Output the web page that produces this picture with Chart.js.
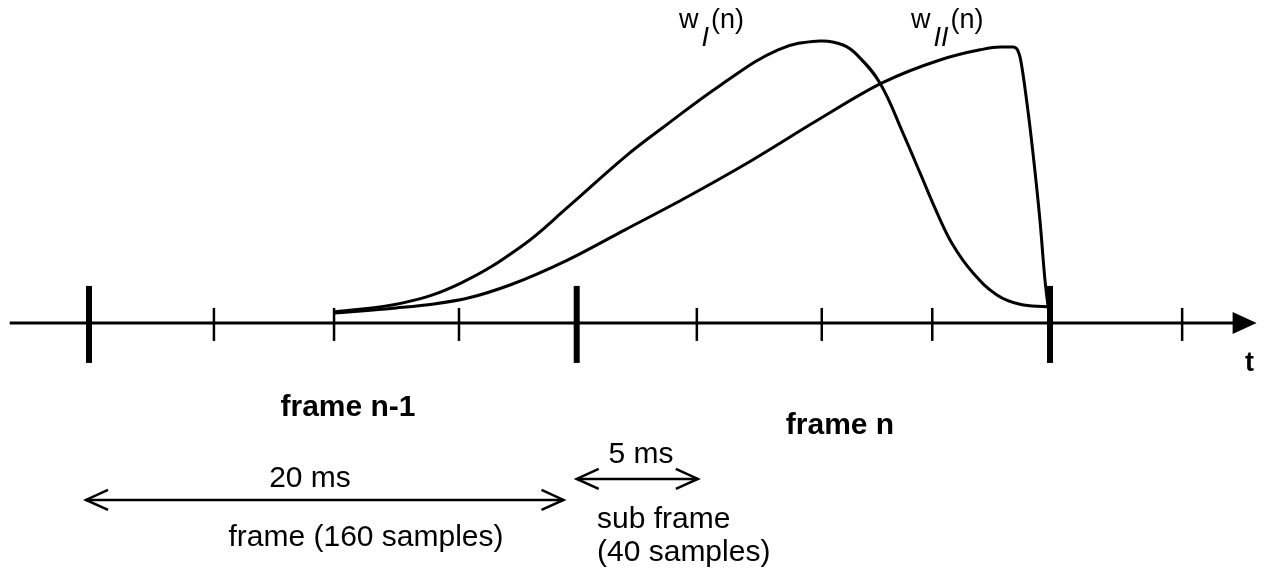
<!DOCTYPE html>
<html>
<head>
<meta charset="utf-8">
<title>Frame and sub frame windows</title>
<script src="https://cdn.jsdelivr.net/npm/chart.js"></script>
<style>
  html, body { margin: 0; padding: 0; background: #fff; }
  #wrap { width: 1264px; height: 572px; }
</style>
</head>
<body>
<div id="wrap"><canvas id="chart" width="1264" height="572"></canvas></div>
<script>
// time axis in ms, window amplitude 0..1
const majorTicks = [0, 20.3, 40];
const minorTicks = [5.2, 10.2, 15.4, 25.3, 30.5, 35.1, 45.5];

const wI_t = [10.2, 13.07, 15.48, 18.02, 19.94, 22.31, 23.93, 26.3, 28.68, 30.43, 31.39, 31.97, 32.92, 33.88, 34.59, 35.3, 35.96, 36.79, 37.79, 38.75, 39.88];
const wI_v = [0.039, 0.071, 0.141, 0.272, 0.41, 0.587, 0.693, 0.841, 0.965, 0.996, 0.982, 0.947, 0.848, 0.671, 0.53, 0.389, 0.275, 0.177, 0.099, 0.066, 0.057];

const wII_t = [10.2, 12.78, 14.36, 15.78, 17.52, 19.94, 22.31, 24.72, 27.6, 30.3, 33.01, 35.42, 37.09, 37.92, 38.46, 38.75, 39.04, 39.29, 39.58, 39.79, 39.92];
const wII_v = [0.035, 0.053, 0.067, 0.088, 0.134, 0.223, 0.329, 0.437, 0.575, 0.715, 0.848, 0.929, 0.965, 0.975, 0.975, 0.94, 0.777, 0.601, 0.364, 0.152, 0.057];

const frameSpan = [0, 20];      // 20 ms frame
const subSpan = [20.3, 25.3];   // 5 ms sub frame
const axisSpan = [-3.3, 48.6];

const FONT = '"Liberation Sans", Arial, Helvetica, sans-serif';

function pts(ts, vs) {
  return ts.map((t, i) => ({ x: t, y: vs[i] }));
}

function chevron(ctx, x, y, dir) {
  ctx.beginPath();
  ctx.moveTo(x - dir * 22, y - 10);
  ctx.lineTo(x, y);
  ctx.lineTo(x - dir * 22, y + 10);
  ctx.stroke();
}

function dimArrow(ctx, x1, x2, y) {
  ctx.beginPath();
  ctx.moveTo(x1, y);
  ctx.lineTo(x2, y);
  ctx.stroke();
  chevron(ctx, x1, y, -1);
  chevron(ctx, x2, y, 1);
}

function label(ctx, x, y, sub) {
  ctx.font = '27px ' + FONT;
  ctx.fillText('w', x, y);
  x += ctx.measureText('w').width + 3;
  ctx.font = 'italic 27px ' + FONT;
  ctx.fillText(sub, x, y + 18);
  x += ctx.measureText(sub).width + 2;
  ctx.font = '27px ' + FONT;
  ctx.fillText('(n)', x, y);
}

const diagram = {
  id: 'diagram',
  afterDatasetsDraw(chart) {
    const ctx = chart.ctx;
    const xs = chart.scales.x;
    const ys = chart.scales.y;
    const y0 = ys.getPixelForValue(0);
    ctx.save();
    ctx.strokeStyle = '#000';
    ctx.fillStyle = '#000';
    ctx.lineCap = 'butt';

    // time axis with arrow head
    const xa = xs.getPixelForValue(axisSpan[0]);
    const xb = xs.getPixelForValue(axisSpan[1]);
    ctx.lineWidth = 3;
    ctx.beginPath();
    ctx.moveTo(xa, y0);
    ctx.lineTo(xb - 20, y0);
    ctx.stroke();
    ctx.beginPath();
    ctx.moveTo(xb, y0);
    ctx.lineTo(xb - 24, y0 - 11);
    ctx.lineTo(xb - 24, y0 + 11);
    ctx.closePath();
    ctx.fill();

    // frame boundaries
    ctx.lineWidth = 6;
    majorTicks.forEach(t => {
      const x = xs.getPixelForValue(t);
      ctx.beginPath();
      ctx.moveTo(x, y0 - 37);
      ctx.lineTo(x, y0 + 40);
      ctx.stroke();
    });
    // sub frame boundaries
    ctx.lineWidth = 2.5;
    minorTicks.forEach(t => {
      const x = xs.getPixelForValue(t);
      ctx.beginPath();
      ctx.moveTo(x, y0 - 15);
      ctx.lineTo(x, y0 + 18);
      ctx.stroke();
    });

    // dimension arrows
    ctx.lineWidth = 2.5;
    dimArrow(ctx, xs.getPixelForValue(frameSpan[0]) - 3, xs.getPixelForValue(frameSpan[1]) - 6, y0 + 177);
    dimArrow(ctx, xs.getPixelForValue(subSpan[0]), xs.getPixelForValue(subSpan[1]) + 1, y0 + 156);

    // texts
    ctx.textBaseline = 'alphabetic';
    ctx.textAlign = 'center';
    ctx.font = 'bold 30px ' + FONT;
    ctx.fillText('frame n-1', 348, 416);
    ctx.fillText('frame n', 840, 434);
    ctx.font = '30px ' + FONT;
    ctx.fillText('20 ms', 310, 487);
    ctx.fillText('frame (160 samples)', 366, 546);
    ctx.fillText('5 ms', 641, 463);
    ctx.textAlign = 'left';
    ctx.fillText('sub frame', 597, 528);
    ctx.fillText('(40 samples)', 597, 561);
    ctx.font = 'bold 27px ' + FONT;
    ctx.fillText('t', 1245, 371);

    label(ctx, 679, 28, 'I');
    label(ctx, 911, 28, 'II');
    ctx.restore();
  }
};

new Chart(document.getElementById('chart'), {
  type: 'line',
  data: {
    datasets: [
      { label: 'wI(n)', data: pts(wI_t, wI_v), tension: 0.4, cubicInterpolationMode: 'default' },
      { label: 'wII(n)', data: pts(wII_t, wII_v), cubicInterpolationMode: 'monotone' }
    ]
  },
  options: {
    responsive: false,
    animation: false,
    devicePixelRatio: 1,
    layout: { padding: 0 },
    elements: {
      line: { borderColor: '#000', borderWidth: 3, fill: false, borderJoinStyle: 'round' },
      point: { radius: 0, hoverRadius: 0 }
    },
    plugins: { legend: { display: false }, tooltip: { enabled: false } },
    scales: {
      x: { type: 'linear', min: -3.704, max: 48.907, display: false },
      y: { type: 'linear', min: -0.88, max: 1.141, display: false }
    }
  },
  plugins: [diagram]
});
</script>
</body>
</html>
